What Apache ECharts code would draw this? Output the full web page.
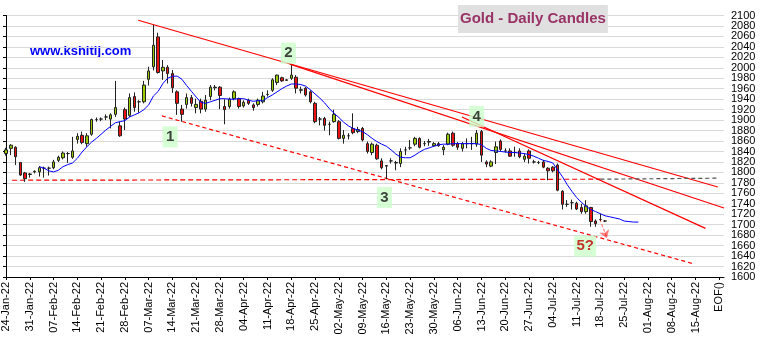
<!DOCTYPE html>
<html><head><meta charset="utf-8">
<script src="https://cdn.jsdelivr.net/npm/echarts@6/dist/echarts.min.js"></script>
<style>html,body{margin:0;padding:0;background:#fff}#c{width:763px;height:344px}</style>
</head><body><div id="c"></div>
<script>
// Weekly (Monday) tick labels, one every 5 trading days
const tickLabels = ["24-Jan-22","31-Jan-22","07-Feb-22","14-Feb-22","21-Feb-22","28-Feb-22","07-Mar-22","14-Mar-22","21-Mar-22","28-Mar-22","04-Apr-22","11-Apr-22","18-Apr-22","25-Apr-22","02-May-22","09-May-22","16-May-22","23-May-22","30-May-22","06-Jun-22","13-Jun-22","20-Jun-22","27-Jun-22","04-Jul-22","11-Jul-22","18-Jul-22","25-Jul-22","01-Aug-22","08-Aug-22","15-Aug-22","EOF()"];
// Price tick labels (right axis)
const priceTicks = [1600,1620,1640,1660,1680,1700,1720,1740,1760,1780,1800,1820,1840,1860,1880,1900,1920,1940,1960,1980,2000,2020,2040,2060,2080,2100];
const dayCount = 152;
// Daily OHLC (trading day index from 24-Jan-22)
const opens  = [1836,1846,1848,1819,1799,1796,1801,1801,1808,1808,1809,1823,1828,1836,1829,1863,1871,1855,1873,1901,1902,1906,1902,1911,1889,1920,1909,1945,1935,1935,1978,2002,2059,1994,2001,1989,1954,1921,1930,1943,1924,1936,1921,1945,1962,1963,1926,1926,1941,1941,1927,1938,1929,1930,1935,1949,1957,1972,1981,1977,1980,1982,1957,1961,1954,1932,1902,1903,1892,1897,1897,1865,1870,1884,1878,1884,1855,1838,1852,1822,1813,1822,1818,1817,1843,1847,1854,1865,1855,1858,1851,1855,1843,1854,1875,1855,1846,1855,1855,1854,1878,1820,1812,1838,1860,1841,1841,1838,1841,1825,1841,1820,1819,1820,1808,1810,1814,1764,1739,1742,1741,1733,1725,1733,1707,1710,1707];
const closes = [1843,1852,1830,1795,1788,1797,1802,1809,1808,1808,1820,1829,1837,1836,1841,1869,1857,1870,1901,1901,1902,1906,1910,1924,1870,1902,1943,1924,1935,1967,1994,2043,1991,2001,1989,1962,1932,1911,1943,1932,1930,1921,1938,1963,1963,1947,1920,1940,1954,1926,1934,1932,1924,1938,1946,1949,1977,1986,1975,1976,1986,1961,1958,1948,1935,1897,1902,1890,1892,1911,1865,1871,1870,1876,1882,1862,1840,1854,1826,1809,1812,1822,1819,1840,1843,1847,1865,1848,1855,1859,1855,1851,1848,1873,1852,1848,1855,1855,1855,1875,1833,1816,1820,1849,1844,1841,1831,1838,1830,1831,1827,1820,1819,1810,1803,1803,1766,1739,1739,1742,1730,1725,1736,1706,1702,1710,1707];
const lows   = [1832,1833,1814,1793,1782,1790,1798,1792,1790,1794,1806,1820,1825,1818,1826,1855,1854,1849,1870,1897,1898,1900,1884,1906,1868,1881,1906,1916,1914,1932,1966,1995,1989,1977,1970,1952,1910,1897,1922,1926,1913,1913,1916,1938,1957,1921,1892,1922,1938,1922,1924,1929,1918,1926,1932,1945,1954,1967,1973,1975,1977,1951,1951,1945,1932,1894,1890,1880,1871,1895,1863,1855,1863,1873,1875,1859,1836,1833,1824,1806,1787,1817,1804,1810,1833,1843,1850,1846,1850,1851,1849,1849,1833,1852,1849,1843,1840,1846,1843,1849,1820,1810,1810,1816,1840,1838,1830,1830,1827,1820,1817,1817,1816,1808,1785,1800,1764,1729,1734,1729,1728,1721,1721,1696,1696,1707,1705];
const highs  = [1847,1854,1850,1820,1801,1799,1804,1812,1811,1811,1824,1832,1840,1839,1868,1875,1878,1875,1903,1905,1905,1911,1913,1975,1897,1924,1951,1953,1938,1975,2002,2082,2067,2015,2005,1996,1957,1929,1951,1948,1941,1941,1948,1967,1967,1965,1940,1943,1957,1943,1938,1941,1932,1941,1954,1957,1980,1987,1983,1978,2005,1986,1964,1963,1957,1935,1906,1906,1897,1920,1900,1881,1875,1913,1887,1887,1859,1857,1855,1827,1814,1827,1822,1846,1849,1862,1868,1867,1860,1864,1858,1858,1852,1876,1878,1858,1858,1865,1868,1881,1881,1823,1823,1859,1863,1846,1846,1849,1846,1836,1844,1824,1822,1824,1810,1812,1817,1766,1747,1748,1744,1740,1747,1734,1710,1721,1709];
// Blue moving average (starts at trading day 7, runs past last candle)
const maStart = 7;
const maValues = [1811,1808,1803,1801,1804,1811,1815,1818,1827,1839,1849,1858,1865,1873,1881,1888,1895,1897,1899,1906,1910,1914,1920,1929,1946,1955,1970,1980,1984,1984,1978,1966,1955,1944,1934,1932,1935,1938,1941,1941,1940,1940,1941,1941,1938,1936,1937,1937,1943,1948,1954,1960,1965,1969,1969,1968,1965,1958,1950,1942,1933,1922,1913,1905,1896,1889,1884,1881,1878,1872,1865,1859,1854,1850,1843,1835,1829,1828,1828,1833,1839,1844,1847,1850,1853,1854,1854,1855,1855,1855,1855,1855,1855,1853,1846,1842,1841,1840,1839,1838,1838,1837,1836,1834,1831,1827,1823,1821,1818,1805,1792,1777,1764,1752,1743,1735,1729,1725,1721,1717,1715,1713,1711,1707,1706,1705,1705];
// Trend lines: [dayIndex, price] endpoints
const resistance1 = [[27.8, 2091], [149.7, 1772]];
const resistance2 = [[59.7, 2007], [151, 1732]];
const resistance3 = [[95.9, 1906], [147.1, 1693]];
const supportDashed = [[32.8, 1908], [144.3, 1626]];
const flatDashed = [[1.3, 1785], [125, 1787]];
const flatDashedDark = [[125, 1787], [150, 1789]];
const arrowLine = [[124.9, 1710], [126.4, 1674]];
// Wave labels
const waveTexts = ["1", "2", "3", "4", "5?"];
const waveColors = ["#111", "#111", "#111", "#111", "#bb0000"];
const wavePos = [[34.5, 1868], [59.4, 2028], [79.6, 1752], [99, 1907], [121.8, 1659]];

const cats = [];
for (let i = 0; i < dayCount; i++) cats.push(String(i));
const candleData = [];
for (let i = 0; i < dayCount; i++) {
  candleData.push(i < opens.length ? [opens[i], closes[i], lows[i], highs[i]] : '-');
}
const maData = [];
for (let i = 0; i < dayCount; i++) {
  const k = i - maStart;
  maData.push(k >= 0 && k < maValues.length ? maValues[k] : '-');
}
const FONT = 'Arial, "Liberation Sans", sans-serif';
const trendLine = (d, dash, color) => ({
  type: 'line', xAxisIndex: 1, yAxisIndex: 0, data: d, symbol: 'none', silent: true,
  lineStyle: { color: color || '#ff0000', width: 1.2, type: dash || 'solid' }, z: 3
});
const urlText = {
  id: 'url', type: 'text', left: 30, top: 45,
  style: { text: 'www.kshitij.com', font: 'bold 13px ' + FONT, fill: '#0000ff' }
};

const chart = echarts.init(document.getElementById('c'), null, { renderer: 'canvas' });
chart.setOption({
  animation: false,
  backgroundColor: '#ffffff',
  title: {
    text: 'Gold - Daily Candles', left: 458, top: 5,
    backgroundColor: '#e0e0e0', padding: [6, 2, 6, 2],
    textStyle: { fontFamily: FONT, fontSize: 15, fontWeight: 'bold', color: '#993366', lineHeight: 16 }
  },
  graphic: [urlText],
  grid: { left: 6, right: 39, top: 15.5, bottom: 67, containLabel: false },
  xAxis: [{
    type: 'category', data: cats, boundaryGap: false,
    axisLine: { lineStyle: { color: '#000', width: 1 } },
    axisTick: { interval: 4, length: 3, lineStyle: { color: '#000' } },
    axisLabel: {
      interval: 4, rotate: 90, margin: 5, fontSize: 11, fontFamily: FONT, color: '#000',
      formatter: (v, idx) => (idx % 5 === 0 ? (tickLabels[idx / 5] || '') : '')
    },
    splitLine: { show: false }
  }, {
    type: 'value', min: 0, max: dayCount - 1, show: false, splitLine: { show: false }
  }],
  yAxis: {
    type: 'value', position: 'right', min: 1600, max: 2100, interval: 20,
    axisLine: { show: true, lineStyle: { color: '#000' } },
    axisTick: { show: true, inside: true, length: 3, lineStyle: { color: '#000' } },
    axisLabel: { show: false },
    splitLine: { show: true, lineStyle: { color: '#d9d9d9', width: 1 } }
  },
  series: [
    {
      type: 'candlestick', data: candleData, barWidth: 3, z: 4,
      itemStyle: { color: '#99cc00', color0: '#ee1111', borderColor: '#222', borderColor0: '#222', borderColorDoji: '#222', borderWidth: 1 }
    },
    {
      type: 'line', data: maData, symbol: 'none', z: 5,
      lineStyle: { color: '#0000ff', width: 1 }
    },
    trendLine(resistance1), trendLine(resistance2), trendLine(resistance3),
    trendLine(supportDashed, [4, 3]), trendLine(flatDashed, [5, 3]),
    trendLine(flatDashedDark, [4, 3], '#555555'),
    {
      type: 'lines', coordinateSystem: 'cartesian2d', xAxisIndex: 1, yAxisIndex: 0, z: 6,
      symbol: ['none', 'arrow'], symbolSize: 8,
      lineStyle: { color: '#ff0000', width: 1.2, type: [3, 2] },
      data: [{ coords: arrowLine }]
    },
    {
      type: 'scatter', xAxisIndex: 1, yAxisIndex: 0, z: 7, symbol: 'rect',
      data: wavePos.map((p, i) => ({
        value: p, symbolSize: i === 4 ? [22, 21] : [15, 21],
        label: { color: waveColors[i] }
      })),
      itemStyle: { color: '#ccffcc' },
      label: {
        show: true, position: 'inside', fontFamily: FONT, fontSize: 15, fontWeight: 'bold',
        formatter: (p) => waveTexts[p.dataIndex],
        color: '#111'
      },
      emphasis: { disabled: true }
    }
  ]
});
// Right-axis price labels placed at their tick positions through the axis scale
const axisX = chart.convertToPixel({ xAxisIndex: 1 }, dayCount - 1);
const labelEls = priceTicks.map((v) => ({
  id: 'yl' + v,
  type: 'text',
  x: axisX + 7,
  y: chart.convertToPixel({ yAxisIndex: 0 }, v),
  style: { text: String(v), font: '11px ' + FONT, fill: '#000', verticalAlign: 'middle', align: 'left' },
  silent: true
}));
chart.setOption({ graphic: [urlText].concat(labelEls) });
</script></body></html>
